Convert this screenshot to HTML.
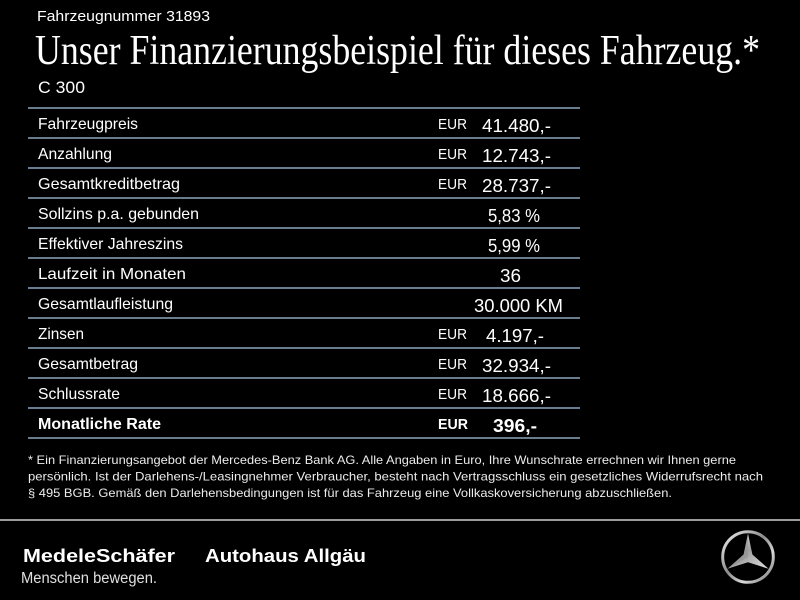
<!DOCTYPE html>
<html><head><meta charset="utf-8"><style>
html,body{margin:0;padding:0;background:#000;width:800px;height:600px;overflow:hidden}
svg{display:block}
.s{font-family:"Liberation Sans",Arial,sans-serif;fill:#fff}
.t{font-family:"Liberation Serif",serif;fill:#fff}
</style></head><body>
<svg width="800" height="600" viewBox="0 0 800 600" xmlns="http://www.w3.org/2000/svg">
<defs>
<linearGradient id="sil" x1="0" y1="0" x2="1" y2="1">
<stop offset="0" stop-color="#f4f4f4"/><stop offset="0.45" stop-color="#8a8a8a"/><stop offset="0.7" stop-color="#d8d8d8"/><stop offset="1" stop-color="#6a6a6a"/>
</linearGradient>
<linearGradient id="sil2" x1="0" y1="0" x2="1" y2="1">
<stop offset="0" stop-color="#ffffff"/><stop offset="0.5" stop-color="#a0a0a0"/><stop offset="1" stop-color="#e0e0e0"/>
</linearGradient>
</defs>
<rect width="800" height="600" fill="#000"/>
<text class="s" x="37" y="21" font-size="15" textLength="173" lengthAdjust="spacingAndGlyphs">Fahrzeugnummer 31893</text>
<text class="t" x="35" y="64" font-size="42" textLength="725" lengthAdjust="spacingAndGlyphs">Unser Finanzierungsbeispiel für dieses Fahrzeug.*</text>
<text class="s" x="38" y="93" font-size="17" textLength="47" lengthAdjust="spacingAndGlyphs">C 300</text>
<g stroke="#6a7c90" stroke-width="2">
<line x1="28" y1="108" x2="580" y2="108"/><line x1="28" y1="138" x2="580" y2="138"/>
<line x1="28" y1="168" x2="580" y2="168"/><line x1="28" y1="198" x2="580" y2="198"/>
<line x1="28" y1="228" x2="580" y2="228"/><line x1="28" y1="258" x2="580" y2="258"/>
<line x1="28" y1="288" x2="580" y2="288"/><line x1="28" y1="318" x2="580" y2="318"/>
<line x1="28" y1="348" x2="580" y2="348"/><line x1="28" y1="378" x2="580" y2="378"/>
<line x1="28" y1="408" x2="580" y2="408"/><line x1="28" y1="438" x2="580" y2="438"/>
</g>
<g class="s" font-size="16">
<text x="38" y="129" textLength="100" lengthAdjust="spacingAndGlyphs">Fahrzeugpreis</text>
<text x="38" y="159" textLength="74" lengthAdjust="spacingAndGlyphs">Anzahlung</text>
<text x="38" y="189" textLength="142" lengthAdjust="spacingAndGlyphs">Gesamtkreditbetrag</text>
<text x="38" y="219" textLength="161" lengthAdjust="spacingAndGlyphs">Sollzins p.a. gebunden</text>
<text x="38" y="249" textLength="145" lengthAdjust="spacingAndGlyphs">Effektiver Jahreszins</text>
<text x="38" y="279" textLength="148" lengthAdjust="spacingAndGlyphs">Laufzeit in Monaten</text>
<text x="38" y="309" textLength="135" lengthAdjust="spacingAndGlyphs">Gesamtlaufleistung</text>
<text x="38" y="339" textLength="46" lengthAdjust="spacingAndGlyphs">Zinsen</text>
<text x="38" y="369" textLength="100" lengthAdjust="spacingAndGlyphs">Gesamtbetrag</text>
<text x="38" y="399" textLength="82" lengthAdjust="spacingAndGlyphs">Schlussrate</text>
<text x="38" y="429" font-weight="bold" textLength="123" lengthAdjust="spacingAndGlyphs">Monatliche Rate</text>
</g>
<g class="s" font-size="15">
<text x="438" y="129" textLength="29" lengthAdjust="spacingAndGlyphs">EUR</text>
<text x="438" y="159" textLength="29" lengthAdjust="spacingAndGlyphs">EUR</text>
<text x="438" y="189" textLength="29" lengthAdjust="spacingAndGlyphs">EUR</text>
<text x="438" y="339" textLength="29" lengthAdjust="spacingAndGlyphs">EUR</text>
<text x="438" y="369" textLength="29" lengthAdjust="spacingAndGlyphs">EUR</text>
<text x="438" y="399" textLength="29" lengthAdjust="spacingAndGlyphs">EUR</text>
<text x="438" y="429" font-weight="bold" textLength="30" lengthAdjust="spacingAndGlyphs">EUR</text>
</g>
<g class="s" font-size="18">
<text x="482" y="132" textLength="69" lengthAdjust="spacingAndGlyphs">41.480,-</text>
<text x="482" y="162" textLength="69" lengthAdjust="spacingAndGlyphs">12.743,-</text>
<text x="482" y="192" textLength="69" lengthAdjust="spacingAndGlyphs">28.737,-</text>
<text x="488" y="222" textLength="52" lengthAdjust="spacingAndGlyphs">5,83 %</text>
<text x="488" y="252" textLength="52" lengthAdjust="spacingAndGlyphs">5,99 %</text>
<text x="500" y="282" textLength="21" lengthAdjust="spacingAndGlyphs">36</text>
<text x="474" y="312" textLength="89" lengthAdjust="spacingAndGlyphs">30.000 KM</text>
<text x="486" y="342" textLength="58" lengthAdjust="spacingAndGlyphs">4.197,-</text>
<text x="482" y="372" textLength="69" lengthAdjust="spacingAndGlyphs">32.934,-</text>
<text x="482" y="402" textLength="69" lengthAdjust="spacingAndGlyphs">18.666,-</text>
<text x="493" y="432" font-weight="bold" textLength="44" lengthAdjust="spacingAndGlyphs">396,-</text>
</g>
<g class="s" font-size="12" style="fill:#ececec">
<text x="28" y="464" textLength="708" lengthAdjust="spacingAndGlyphs">* Ein Finanzierungsangebot der Mercedes-Benz Bank AG. Alle Angaben in Euro, Ihre Wunschrate errechnen wir Ihnen gerne</text>
<text x="28" y="480.5" textLength="735" lengthAdjust="spacingAndGlyphs">persönlich. Ist der Darlehens-/Leasingnehmer Verbraucher, besteht nach Vertragsschluss ein gesetzliches Widerrufsrecht nach</text>
<text x="28" y="497" textLength="644" lengthAdjust="spacingAndGlyphs">§ 495 BGB. Gemäß den Darlehensbedingungen ist für das Fahrzeug eine Vollkaskoversicherung abzuschließen.</text>
</g>
<rect x="0" y="519" width="800" height="2" fill="#9c9c9c"/>
<text class="s" x="23" y="562" font-size="18.5" font-weight="bold" textLength="152" lengthAdjust="spacingAndGlyphs">MedeleSchäfer</text>
<text class="s" x="205" y="562" font-size="18.5" font-weight="bold" textLength="161" lengthAdjust="spacingAndGlyphs">Autohaus Allgäu</text>
<text class="s" x="21" y="583" font-size="15.5" style="fill:#e0e0e0" textLength="136" lengthAdjust="spacingAndGlyphs">Menschen bewegen.</text>
<circle cx="748" cy="557" r="25.3" fill="none" stroke="url(#sil)" stroke-width="3"/>
<polygon points="748,533.5 752.4,554.5 768.5,568.8 748,562.2 727.5,568.8 743.6,554.5" fill="url(#sil2)"/>
<polygon points="748,533.5 748,557 727.5,568.8 743.6,554.5" fill="#8a8a8a" opacity="0.45"/>
</svg>
</body></html>
